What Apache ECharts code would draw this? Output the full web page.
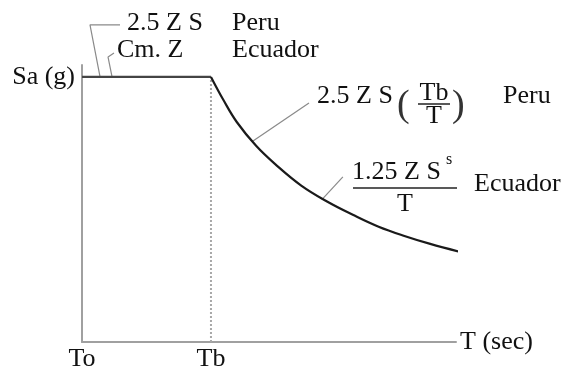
<!DOCTYPE html>
<html>
<head>
<meta charset="utf-8">
<script src="https://cdn.jsdelivr.net/npm/echarts@6/dist/echarts.min.js"></script>
<style>
  html, body { margin: 0; padding: 0; background: #fff; }
  #container { width: 563px; height: 373px; }
</style>
</head>
<body>
<div id="container"></div>
<script>
// spectrum (T in units of Tb, Sa relative to plateau)
const plateauT = [0, 1];
const plateauSa = [1, 1];
const decayT = [1, 1.1, 1.2, 1.35, 1.5, 1.7, 1.9, 2.1, 2.3, 2.5, 2.7, 2.93];
const decaySa = [1, 0.91, 0.83, 0.74, 0.67, 0.59, 0.53, 0.48, 0.435, 0.4, 0.37, 0.34];
const tbLineT = [1, 1];
const tbLineSa = [0, 1];

const xTickValues = [0, 1];
const xTickLabels = ["To", "Tb"];
const yTickValues = [1];
const yTickLabels = ["Sa (g)"];

// leader lines for the annotations
const leader25ZS = [[0.295, 1.196], [0.062, 1.196], [0.14, 1.0]];
const leaderCmZ = [[0.248, 1.09], [0.202, 1.075], [0.233, 1.0]];
const leaderPeru = [[1.326, 0.758], [1.76, 0.902]];
const leaderEcuador = [[1.86, 0.537], [2.023, 0.623]];

const FONT = "Liberation Serif";
const TXT = "#111";
const FS = 26;

const zip = (xs, ys) => xs.map((x, i) => [x, ys[i]]);

const chart = echarts.init(document.getElementById("container"), null, {
  renderer: "canvas",
});

function leader(data) {
  return {
    type: "line",
    data: data,
    clip: false,
    symbol: "none",
    silent: true,
    lineStyle: { color: "#8a8a8a", width: 1.2 },
    z: 1,
  };
}

function txt(x, y, text, size, align, fill) {
  return {
    type: "text",
    x: x,
    y: y,
    silent: true,
    style: {
      text: text,
      font: size + "px '" + FONT + "'",
      fill: fill || TXT,
      align: align || "left",
      verticalAlign: "middle",
    },
  };
}

function bar(x1, x2, y) {
  return {
    type: "line",
    silent: true,
    shape: { x1: x1, y1: y, x2: x2, y2: y },
    style: { stroke: "#222", lineWidth: 1.5 },
  };
}

const option = {
  animation: false,
  backgroundColor: "#fff",
  grid: { left: 82, right: 107, top: 65, bottom: 31 },
  xAxis: {
    type: "value",
    min: 0,
    max: 2.9,
    name: "T (sec)",
    nameLocation: "end",
    nameGap: 4,
    nameTextStyle: { fontFamily: FONT, fontSize: FS, color: TXT },
    axisLine: { show: true, lineStyle: { color: "#a0a0a0", width: 2 } },
    axisTick: { show: false },
    splitLine: { show: false },
    axisLabel: {
      customValues: xTickValues,
      formatter: (v) => xTickLabels[xTickValues.indexOf(v)] || "",
      fontFamily: FONT,
      fontSize: FS,
      color: TXT,
      margin: 4,
    },
  },
  yAxis: {
    type: "value",
    min: 0,
    max: 1.045,
    axisLine: { show: true, lineStyle: { color: "#a0a0a0", width: 2 } },
    axisTick: { show: false },
    splitLine: { show: false },
    axisLabel: {
      customValues: yTickValues,
      formatter: (v) => yTickLabels[yTickValues.indexOf(v)] || "",
      fontFamily: FONT,
      fontSize: FS,
      color: TXT,
      margin: 7,
      padding: [0, 0, 12, 0],
    },
  },
  series: [
    {
      type: "line",
      data: zip(tbLineT, tbLineSa),
      symbol: "none",
      lineStyle: { color: "#a8a8a8", width: 2, type: [2, 2] },
      z: 1,
    },
    {
      type: "line",
      data: zip(plateauT, plateauSa),
      symbol: "none",
      lineStyle: { color: "#444", width: 2.2 },
      z: 3,
    },
    {
      type: "line",
      data: zip(decayT, decaySa),
      smooth: 0.4,
      clip: false,
      symbol: "none",
      lineStyle: { color: "#1a1a1a", width: 2.2 },
      z: 3,
    },
    leader(leader25ZS),
    leader(leaderCmZ),
    leader(leaderPeru),
    leader(leaderEcuador),
  ],
  graphic: [
    txt(127, 23, "2.5 Z S", FS),
    txt(232, 23, "Peru", FS),
    txt(117, 50, "Cm. Z", FS),
    txt(232, 50, "Ecuador", FS),

    // Peru: 2.5 Z S (Tb / T)
    txt(317, 96, "2.5 Z S", FS),
    txt(397, 106, "(", 38, "left", "#333"),
    txt(434, 93, "Tb", FS, "center"),
    bar(418, 450, 104),
    txt(434, 116, "T", FS, "center"),
    txt(452, 106, ")", 38, "left", "#333"),
    txt(503, 96, "Peru", FS),

    // Ecuador: 1.25 Z S^s / T
    txt(352, 172, "1.25 Z S", FS),
    txt(446, 160, "s", 16),
    bar(353, 457, 188),
    txt(405, 204, "T", FS, "center"),
    txt(474, 184, "Ecuador", FS),
  ],
};

chart.setOption(option);
window.addEventListener("resize", chart.resize);
</script>
</body>
</html>
